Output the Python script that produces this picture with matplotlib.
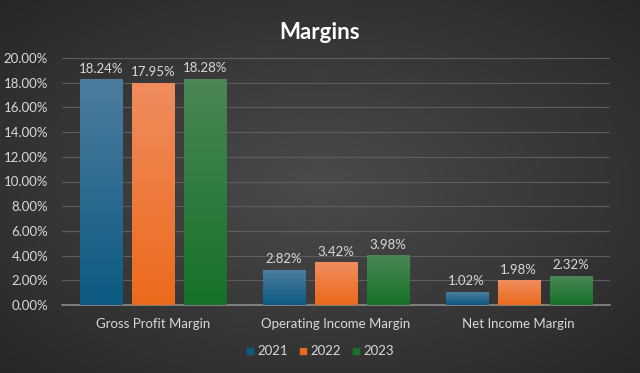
import matplotlib
matplotlib.use("Agg")
import matplotlib.pyplot as plt
import matplotlib.ticker as mtick
from matplotlib.colors import LinearSegmentedColormap
import numpy as np

plt.rcParams["font.family"] = ["Lato", "DejaVu Sans"]

categories = ["Gross Profit Margin", "Operating Income Margin", "Net Income Margin"]
years = ["2021", "2022", "2023"]
values = {
    "2021": [18.24, 2.82, 1.02],
    "2022": [17.95, 3.42, 1.98],
    "2023": [18.28, 3.98, 2.32],
}
# (top colour, bottom colour) per year
shades = {
    "2021": ("#4d7d9e", "#0c5a82"),
    "2022": ("#f08c5e", "#ec6a1c"),
    "2023": ("#4b8656", "#157228"),
}

fig = plt.figure(figsize=(6.4, 3.73), dpi=100)

# radial gradient background
bg = fig.add_axes([0, 0, 1, 1], zorder=-10)
yy, xx = np.mgrid[-1:1:200j, -1:1:340j]
r = np.sqrt(xx ** 2 + yy ** 2)
bg_cmap = LinearSegmentedColormap.from_list("bg", ["#4b4b4b", "#262626"])
bg.imshow(r, cmap=bg_cmap, aspect="auto", extent=[0, 1, 0, 1], vmin=0, vmax=1.45)
bg.axis("off")

ax = fig.add_axes([62 / 640, 68 / 373, 548 / 640, 247 / 373])
ax.set_facecolor("none")

n = len(years)
width = 0.23
gap = 0.055
x = np.arange(len(categories))
grad = np.linspace(1, 0, 100).reshape(-1, 1)

for i, yr in enumerate(years):
    offs = (i - (n - 1) / 2) * (width + gap)
    cmap = LinearSegmentedColormap.from_list(yr, [shades[yr][1], shades[yr][0]])
    bars = ax.bar(x + offs, values[yr], width, color=shades[yr][1], label=yr,
                  edgecolor="#3a3a3a", linewidth=0.6, zorder=3)
    for b, v in zip(bars, values[yr]):
        x0 = b.get_x()
        ax.imshow(grad, cmap=cmap, aspect="auto", zorder=3.5,
                  extent=[x0, x0 + width, 0, v], vmin=0, vmax=1)
        ax.text(x0 + width / 2, v + 0.4, f"{v:.2f}%", ha="center", va="bottom",
                color="#d9d9d9", fontsize=9.5, zorder=5)

ax.set_xlim(-0.5, len(categories) - 0.5)
ax.set_ylim(0, 20)
ax.set_yticks(np.arange(0, 20.1, 2))
ax.yaxis.set_major_formatter(mtick.FormatStrFormatter("%.2f%%"))
ax.set_xticks(x)
ax.set_xticklabels(categories)
ax.tick_params(axis="both", colors="#d9d9d9", labelsize=9.5, length=0)
ax.tick_params(axis="x", pad=9)
ax.tick_params(axis="y", pad=10)
ax.grid(axis="y", color="#5e5e5e", linewidth=0.8, zorder=0)
for s in ["top", "right", "left"]:
    ax.spines[s].set_visible(False)
ax.spines["bottom"].set_color("#8c8c8c")
ax.spines["bottom"].set_linewidth(1.2)

fig.text(0.5, 0.912, "Margins", ha="center", va="center", color="white",
         fontsize=16, fontweight="bold")

leg = fig.legend(loc="center", bbox_to_anchor=(0.5, 0.058), ncol=3, frameon=False,
                 handlelength=0.6, handleheight=0.6, handletextpad=0.3,
                 columnspacing=0.8, fontsize=9.5)
for t in leg.get_texts():
    t.set_color("#d9d9d9")

fig.savefig("out.png", dpi=100)
